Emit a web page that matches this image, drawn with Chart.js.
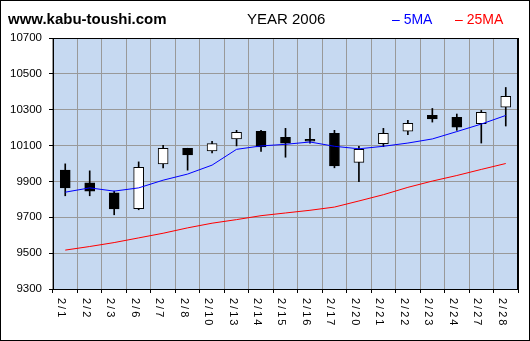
<!DOCTYPE html>
<html>
<head>
<meta charset="utf-8">
<title>YEAR 2006</title>
<script src="https://cdn.jsdelivr.net/npm/chart.js@4/dist/chart.umd.min.js"></script>
<style>
  body { margin: 0; background: #fff; }
  canvas { display: block; }
</style>
</head>
<body>
<canvas id="myChart" width="530" height="341"></canvas>
<script>
// daily prices, Feb 2006
var dates = ["2/1", "2/2", "2/3", "2/6", "2/7", "2/8", "2/10", "2/13", "2/14", "2/15",
  "2/16", "2/17", "2/20", "2/21", "2/22", "2/23", "2/24", "2/27", "2/28"];
var openPrice = [9963, 9892, 9837, 9748, 9998, 10085, 10070, 10137, 10179, 10146,
  10135, 10168, 10006, 10111, 10181, 10268, 10257, 10222, 10314];
var closePrice = [9864, 9846, 9746, 9979, 10085, 10048, 10111, 10174, 10092, 10114,
  10124, 9987, 10079, 10168, 10224, 10248, 10203, 10285, 10374];
var highPrice = [9998, 9959, 9846, 10009, 10102, 10085, 10124, 10185, 10185, 10196,
  10196, 10185, 10096, 10196, 10241, 10307, 10276, 10296, 10424];
var lowPrice = [9820, 9820, 9714, 9742, 9976, 9963, 10059, 10098, 10068, 10035,
  10114, 9976, 9898, 10094, 10161, 10231, 10185, 10114, 10209];
var ma5 = [9840, 9864, 9846, 9864, 9907, 9941, 9991, 10079, 10098, 10107,
  10120, 10096, 10082, 10096, 10114, 10137, 10178, 10220, 10268];
var ma25 = [9517, 9537, 9559, 9585, 9611, 9641, 9667, 9687, 9709, 9724,
  9739, 9757, 9791, 9826, 9867, 9902, 9933, 9967, 10000];
var yMin = 9300;
var yMax = 10700;
var yStep = 200;

var wicks = [];
var bodies = [];
var bodyColors = [];
dates.forEach(function (d, i) {
  wicks.push([lowPrice[i], highPrice[i]]);
  bodies.push([openPrice[i], closePrice[i]]);
  bodyColors.push(closePrice[i] >= openPrice[i] ? "#ffffff" : "#000000");
});

// background, frame, header texts and the vertical date labels
var chartDecor = {
  id: "chartDecor",
  beforeDraw: function (chart) {
    var c = chart.ctx;
    var a = chart.chartArea;
    c.save();
    c.fillStyle = "#ffffff";
    c.fillRect(0, 0, chart.width, chart.height);
    c.fillStyle = "#c6d9f1";
    c.fillRect(a.left, a.top, a.right - a.left, a.bottom - a.top);
    c.restore();
  },
  afterDraw: function (chart) {
    var c = chart.ctx;
    var a = chart.chartArea;
    c.save();
    c.strokeStyle = "#000";
    c.lineWidth = 1;
    c.strokeRect(a.left + 0.5, a.top + 0.5, a.right - a.left - 1, a.bottom - a.top);
    c.lineWidth = 2;
    c.beginPath();
    c.moveTo(a.right, a.top);
    c.lineTo(a.right, a.bottom + 1);
    c.stroke();
    c.lineWidth = 1;
    c.strokeRect(0.5, 0.5, chart.width - 1, chart.height - 1);

    c.textBaseline = "alphabetic";
    c.textAlign = "left";
    c.fillStyle = "#000";
    c.font = "bold 15px 'Liberation Sans', Arial, sans-serif";
    c.fillText("www.kabu-toushi.com", 8, 24);
    c.font = "15px 'Liberation Sans', Arial, sans-serif";
    c.fillText("YEAR 2006", 247, 24);
    c.font = "14px 'Liberation Sans', Arial, sans-serif";
    c.fillStyle = "#0000ff";
    c.fillText("\u2013 5MA", 392, 24);
    c.fillStyle = "#ff0000";
    c.fillText("\u2013 25MA", 455, 24);

    var xs = chart.scales.x;
    c.fillStyle = "#000";
    c.font = "11px 'Liberation Sans', Arial, sans-serif";
    c.letterSpacing = "2px";
    c.textBaseline = "middle";
    dates.forEach(function (lbl, i) {
      var px = xs.getPixelForValue(i);
      c.save();
      c.translate(px - 4, 298);
      c.rotate(Math.PI / 2);
      c.fillText(lbl, 0, 0);
      c.restore();
    });
    c.restore();
  }
};

var ctx = document.getElementById("myChart").getContext("2d");
var myChart = new Chart(ctx, {
  type: "bar",
  data: {
    labels: dates,
    datasets: [
      {
        type: "line",
        label: "5MA",
        data: ma5,
        borderColor: "#0000ff",
        borderWidth: 1,
        pointRadius: 0,
        tension: 0,
        order: 0
      },
      {
        type: "line",
        label: "25MA",
        data: ma25,
        borderColor: "#ff0000",
        borderWidth: 1,
        pointRadius: 0,
        tension: 0,
        order: 0
      },
      {
        label: "body",
        data: bodies,
        grouped: false,
        barThickness: 10,
        backgroundColor: bodyColors,
        borderColor: "#000",
        borderWidth: 1,
        borderSkipped: false,
        order: 1
      },
      {
        label: "wick",
        data: wicks,
        grouped: false,
        barThickness: 1,
        backgroundColor: "#000",
        borderWidth: 0,
        order: 2
      }
    ]
  },
  options: {
    responsive: false,
    animation: false,
    layout: { padding: { top: 38, right: 12, bottom: 0, left: 0 } },
    plugins: {
      legend: { display: false },
      tooltip: { enabled: false }
    },
    scales: {
      x: {
        offset: true,
        grid: {
          offset: true,
          color: "#999999",
          tickColor: "#000",
          tickLength: 4,
          drawTicks: true
        },
        border: { display: false },
        ticks: { display: false },
        afterFit: function (scale) {
          scale.height = 52;
        }
      },
      y: {
        min: yMin,
        max: yMax,
        grid: {
          color: "#999999",
          tickColor: "#000",
          tickLength: 4
        },
        border: { display: false },
        ticks: {
          stepSize: yStep,
          padding: 7,
          color: "#000",
          font: { family: "'Liberation Sans', Arial, sans-serif", size: 11.5 },
          callback: function (value) {
            return String(value);
          }
        },
        afterFit: function (scale) {
          scale.width = 53;
        }
      }
    }
  },
  plugins: [chartDecor]
});
</script>
</body>
</html>
